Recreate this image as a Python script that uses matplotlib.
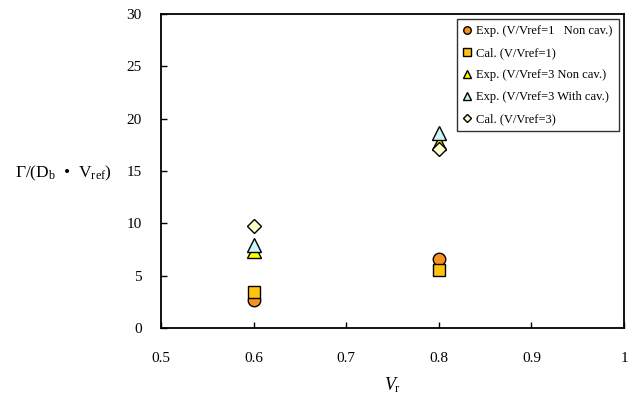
import matplotlib
matplotlib.use("Agg")
import matplotlib.pyplot as plt

plt.rcParams['font.family'] = ['Liberation Serif', 'DejaVu Serif']
plt.rcParams['mathtext.fontset'] = 'custom'
plt.rcParams['mathtext.rm'] = 'Liberation Serif'
plt.rcParams['mathtext.it'] = 'Liberation Serif:italic'

vr = [0.6, 0.8]
exp_v1_noncav = [2.7, 6.6]
cal_v1 = [3.4, 5.5]
exp_v3_noncav = [7.4, 17.7]
exp_v3_cav = [7.9, 18.6]
cal_v3 = [9.7, 17.1]

series = [
    (exp_v1_noncav, 'o', '#F7901E', 'Exp. (V/Vref=1   Non cav.)'),
    (cal_v1, 's', '#FFC20E', 'Cal. (V/Vref=1)'),
    (exp_v3_noncav, '^', '#FFFF00', 'Exp. (V/Vref=3 Non cav.)'),
    (exp_v3_cav, '^', '#CCF5FA', 'Exp. (V/Vref=3 With cav.)'),
    (cal_v3, 'D', '#FFFFCC', 'Cal. (V/Vref=3)'),
]
sizes = {'o': 9, 's': 9, '^': 10, 'D': 7}

fig = plt.figure(figsize=(6.41, 3.98), dpi=100)
ax = fig.add_axes([161 / 641, 70 / 398, 463 / 641, 314 / 398])

for vals, m, c, lab in series:
    ax.plot(vr, vals, linestyle='none', marker=m, markersize=sizes[m],
            markerfacecolor=c, markeredgecolor='black', markeredgewidth=1.0,
            label=lab)

ax.set_xlim(0.5, 1.0)
ax.set_ylim(0, 30)
ax.set_xticks([0.5, 0.6, 0.7, 0.8, 0.9, 1.0])
ax.set_xticklabels(['0.5', '0.6', '0.7', '0.8', '0.9', '1'])
ax.set_yticks(range(0, 31, 5))
ax.tick_params(direction='in', labelsize=11, length=4, width=1)
ax.tick_params(axis='x', pad=17)
ax.tick_params(axis='y', pad=14)
for s in ax.spines.values():
    s.set_linewidth(1.3)

ax.set_xlabel(r'$\mathit{V}_{\mathrm{r}}$', fontsize=13, labelpad=8)
fig.text(15 / 641, 1 - 173 / 398,
         r'$\Gamma$/(D$_{\mathrm{b}}$  •  V$_{\mathrm{ref}}$)',
         fontsize=12.5, ha='left', va='center')

leg = ax.legend(loc='upper right', fontsize=9, markerscale=0.6,
                frameon=True, fancybox=False, edgecolor='black',
                handlelength=0.6, handletextpad=0.4, labelspacing=0.8,
                borderpad=0.5, bbox_to_anchor=(1.002, 1.004))
leg.get_frame().set_linewidth(1.0)

fig.savefig('out.png', dpi=100)
